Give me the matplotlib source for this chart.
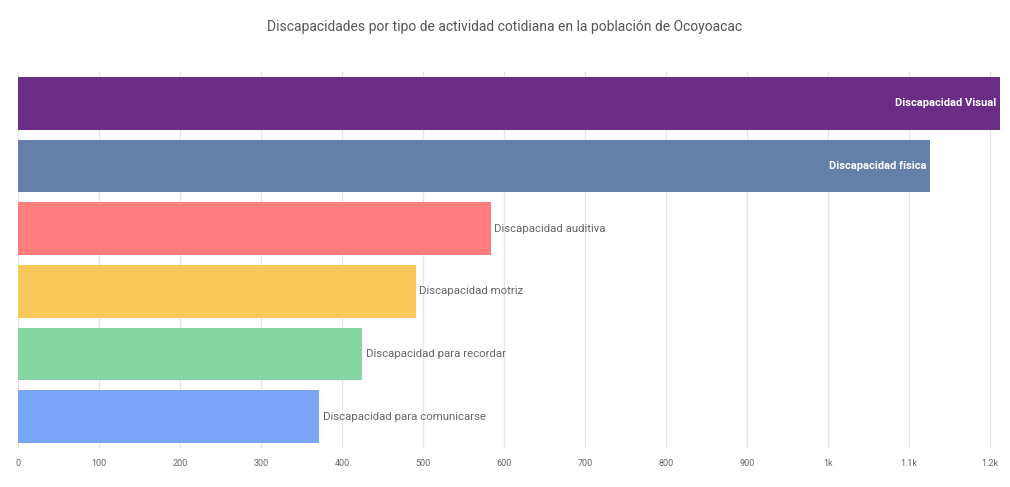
import matplotlib
matplotlib.use("Agg")
import matplotlib.pyplot as plt

categories = ["Discapacidad Visual", "Discapacidad física", "Discapacidad auditiva",
              "Discapacidad motriz", "Discapacidad para recordar", "Discapacidad para comunicarse"]
values = [1212, 1126, 584, 491, 425, 372]
colors = ["#6B2C85", "#6580A8", "#FF7D7D", "#F8C85A", "#86D6A2", "#78A5F5"]
inside = [True, True, False, False, False, False]
tick_values = [0, 100, 200, 300, 400, 500, 600, 700, 800, 900, 1000, 1100, 1200]
tick_labels = ["0", "100", "200", "300", "400", "500", "600", "700", "800", "900", "1k", "1.1k", "1.2k"]

plt.rcParams['font.family'] = ['Roboto', 'DejaVu Sans']

fig = plt.figure(figsize=(10.10, 4.87), dpi=100)
ax = fig.add_axes([18/1010, 1-448/487, (1000-18)/1010, (448-72)/487])

y = list(range(len(categories)))
ax.barh(y, values, height=0.84, color=colors, zorder=2)
ax.set_ylim(len(categories)-0.5, -0.5)
ax.set_xlim(0, 1212)
ax.set_xticks(tick_values)
ax.set_xticklabels(tick_labels)
ax.tick_params(axis='x', length=0, labelsize=6.5, labelcolor="#666666", pad=8)
ax.set_yticks([])
for s in ax.spines.values():
    s.set_visible(False)
ax.grid(axis='x', color="#e6e6e6", linewidth=1, zorder=0)
ax.set_axisbelow(True)

for i, (c, v, ins) in enumerate(zip(categories, values, inside)):
    if ins:
        ax.text(v - 5, i, c, ha='right', va='center', color='white', fontsize=8,
                fontweight='bold', zorder=3)
    else:
        ax.text(v + 4, i, c, ha='left', va='center', color='#666666', fontsize=8.2, zorder=3)

fig.text(0.5, 1-27/487, "Discapacidades por tipo de actividad cotidiana en la población de Ocoyoacac",
         ha='center', va='center', fontsize=10, color='#555555')

fig.savefig("out.png", dpi=100)
